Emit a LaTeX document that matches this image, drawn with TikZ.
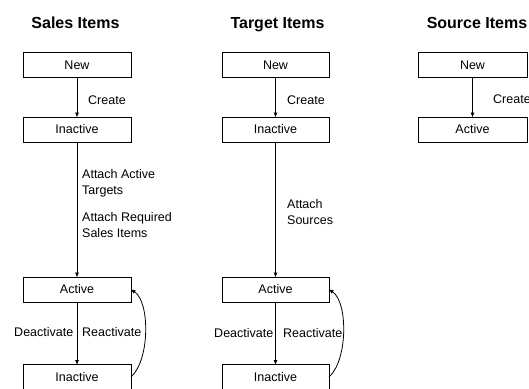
\documentclass[tikz,border=0pt]{standalone}
\usepackage{fontspec}
\setmainfont{Liberation Sans}
\usetikzlibrary{arrows.meta}
\begin{document}
\begin{tikzpicture}[x=1pt,y=-1pt,
  statebox/.style={draw,line width=0.8pt,minimum height=25pt,inner sep=0pt,outer sep=0pt,font=\fontsize{12.5}{15}\selectfont},
  title/.style={font=\bfseries\fontsize{16}{19}\selectfont,anchor=base,inner sep=0pt},
  lbl/.style={font=\fontsize{12.5}{16}\selectfont,align=left,inner sep=0pt},
  conn/.style={line width=0.8pt,-{Triangle[length=4.5pt,width=3.5pt]}}]
\useasboundingbox (0,0) rectangle (529,388);
% titles
\node[title] (t1) at (75.5,28) {Sales Items};
\node[title] (t2) at (277.5,28) {Target Items};
\node[title] (t3) at (477,28) {Source Items};
% sales column
\node[statebox,minimum width=108pt] (sNew) at (77,65) {New};
\node[statebox,minimum width=108pt] (sIn1) at (77,129.5) {Inactive};
\node[statebox,minimum width=108pt] (sAct) at (77,289.5) {Active};
\node[statebox,minimum width=108pt] (sIn2) at (77,377) {Inactive};
\draw[conn] (sNew) -- (sIn1);
\draw[conn] (sIn1) -- (sAct);
\draw[conn] (sAct) -- (sIn2);
\draw[conn] (sIn2.east) .. controls (150,360) and (150,302) .. (sAct.east);
\node[lbl,anchor=west] (sl1) at (88,100) {Create};
\node[lbl,anchor=west] (sl2) at (82,183) {Attach Active\\Targets};
\node[lbl,anchor=west] (sl3) at (82,225) {Attach Required\\Sales Items};
\node[lbl,anchor=east] (sl4) at (73.5,332) {Deactivate};
\node[lbl,anchor=west] (sl5) at (82,332) {Reactivate};
% target column
\node[statebox,minimum width=107pt] (tNew) at (275.5,65) {New};
\node[statebox,minimum width=107pt] (tIn1) at (275.5,129.5) {Inactive};
\node[statebox,minimum width=107pt] (tAct) at (275.5,289.5) {Active};
\node[statebox,minimum width=107pt] (tIn2) at (275.5,377) {Inactive};
\draw[conn] (tNew) -- (tIn1);
\draw[conn] (tIn1) -- (tAct);
\draw[conn] (tAct) -- (tIn2);
\draw[conn] (tIn2.east) .. controls (348,360) and (348,302) .. (tAct.east);
\node[lbl,anchor=west] (tl1) at (287,100) {Create};
\node[lbl,anchor=west] (tl2) at (287,212) {Attach\\Sources};
\node[lbl,anchor=east] (tl4) at (273.5,333) {Deactivate};
\node[lbl,anchor=west] (tl5) at (283,333) {Reactivate};
% source column
\node[statebox,minimum width=109pt] (rNew) at (472.5,65) {New};
\node[statebox,minimum width=109pt] (rAct) at (472.5,129.5) {Active};
\draw[conn] (rNew) -- (rAct);
\node[lbl,anchor=west] (rl1) at (493,99) {Create};
\end{tikzpicture}
\end{document}
